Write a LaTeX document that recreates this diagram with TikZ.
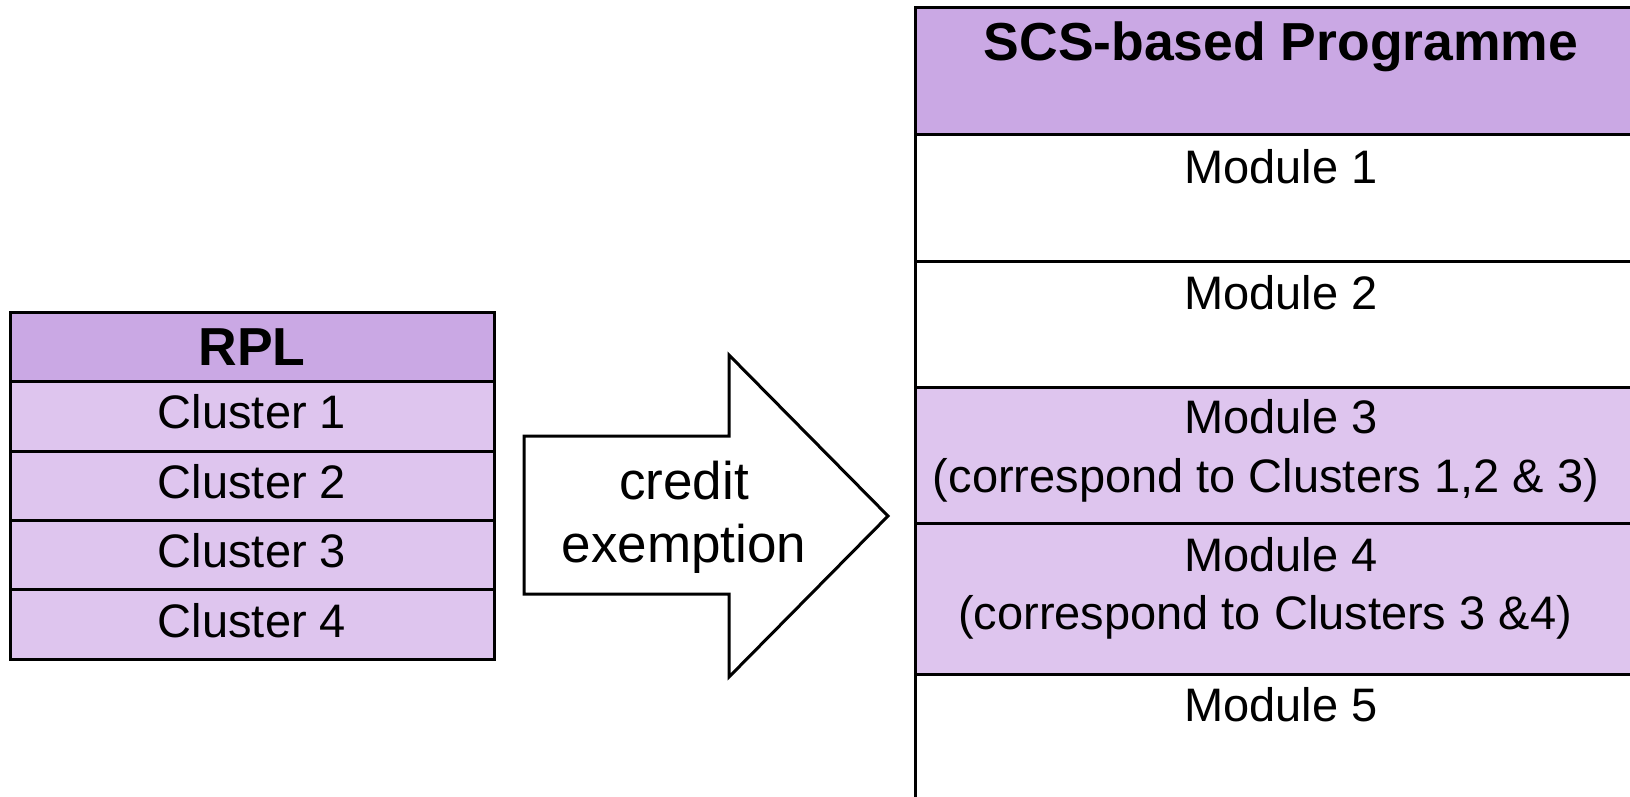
\documentclass[tikz,border=0pt]{standalone}
\usepackage{fontspec}
\setmainfont{Liberation Sans}
\definecolor{hdr}{RGB}{202,168,228}
\definecolor{row}{RGB}{222,197,238}
\tikzset{
  cell/.style={draw=black, line width=3pt},
  txt/.style={inner sep=0pt, text height=33.5pt, text depth=0pt, font=\fontsize{47}{54}\selectfont},
  atxt/.style={inner sep=0pt, text height=38pt, text depth=0pt, font=\fontsize{53}{60}\selectfont},
  btxt/.style={inner sep=0pt, text height=38pt, text depth=0pt, font=\fontsize{53.5}{60}\selectfont\bfseries},
}
\begin{document}
\begin{tikzpicture}[x=1pt,y=-1pt]
\useasboundingbox (0,0) rectangle (1630,797);
\clip (0,0) rectangle (1630,797);
% left table
\filldraw[cell, fill=hdr] (10,312) rectangle (494,381);
\filldraw[cell, fill=row] (10,381) rectangle (494,451);
\filldraw[cell, fill=row] (10,451) rectangle (494,520);
\filldraw[cell, fill=row] (10,520) rectangle (494,589);
\filldraw[cell, fill=row] (10,589) rectangle (494,659);
\node[btxt] (rpl) at (252,346) {RPL};
\node[txt] (c1) at (252,412) {Cluster 1};
\node[txt] (c2) at (252,482) {Cluster 2};
\node[txt] (c3) at (252,551) {Cluster 3};
\node[txt] (c4) at (252,621) {Cluster 4};
% arrow
\draw[line width=3pt, line join=miter, fill=white]
  (524,436) -- (729,436) -- (729,355) -- (888,516) -- (729,677) -- (729,594) -- (524,594) -- cycle;
\node[atxt] (ar1) at (684,480) {credit};
\node[atxt] (ar2) at (684,543) {exemption};
% right table
\filldraw[cell, fill=hdr] (915,8) rectangle (1660,135);
\filldraw[cell, fill=white] (915,135) rectangle (1660,261);
\filldraw[cell, fill=white] (915,261) rectangle (1660,387);
\filldraw[cell, fill=row] (915,387) rectangle (1660,523);
\filldraw[cell, fill=row] (915,523) rectangle (1660,674);
\filldraw[cell, fill=white] (915,674) rectangle (1660,830);
\node[btxt] (scs) at (1281,42) {SCS-based Programme};
\node[txt] (m1) at (1281,167) {Module 1};
\node[txt] (m2) at (1281,293) {Module 2};
\node[txt] (m3a) at (1281,417) {Module 3};
\node[txt] (m3b) at (1266,476) {(correspond to Clusters 1,2 \& 3)};
\node[txt] (m4a) at (1281,555) {Module 4};
\node[txt] (m4b) at (1265,613) {(correspond to Clusters 3 \&4)};
\node[txt] (m5) at (1281,705) {Module 5};
\end{tikzpicture}
\end{document}
